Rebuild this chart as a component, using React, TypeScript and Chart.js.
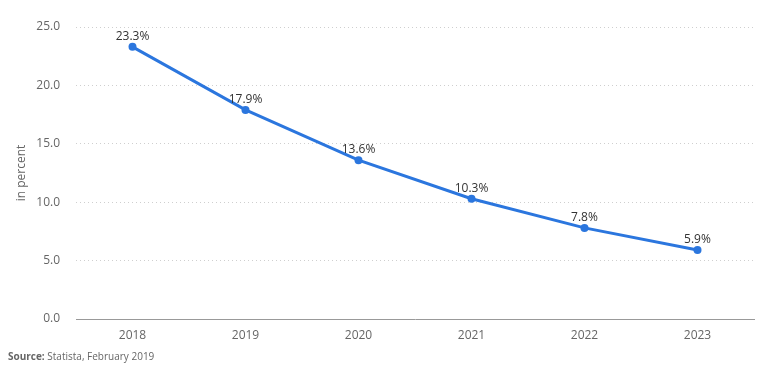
import React, { useEffect, useRef } from "react";
import { Chart, registerables } from "chart.js";

Chart.register(...registerables);

const categories = ["2018", "2019", "2020", "2021", "2022", "2023"];
const values = [23.3, 17.9, 13.6, 10.3, 7.8, 5.9];
const yTicks = [0, 5, 10, 15, 20, 25];

const FONT = "'Open Sans', 'Noto Sans', sans-serif";

const labelPlugin = {
  id: "pointLabels",
  afterDatasetsDraw(chart: any) {
    const ctx = chart.ctx;
    const meta = chart.getDatasetMeta(0);
    ctx.save();
    ctx.font = `12px ${FONT}`;
    ctx.fillStyle = "#333";
    ctx.textAlign = "center";
    ctx.textBaseline = "alphabetic";
    meta.data.forEach((pt: any, i: number) => {
      ctx.fillText(values[i].toFixed(1) + "%", pt.x, pt.y - 7);
    });
    ctx.restore();
  },
};

const sourcePlugin = {
  id: "sourceText",
  afterDraw(chart: any) {
    const ctx = chart.ctx;
    ctx.save();
    ctx.textBaseline = "middle";
    ctx.textAlign = "left";
    ctx.fillStyle = "#666";
    ctx.font = `bold 10px ${FONT}`;
    const b = "Source:";
    ctx.fillText(b, 8, 357);
    const w = ctx.measureText(b).width;
    ctx.font = `10px ${FONT}`;
    ctx.fillText(" Statista, February 2019", 8 + w, 357);
    ctx.restore();
  },
};

export default function App() {
  const ref = useRef<HTMLCanvasElement | null>(null);
  useEffect(() => {
    if (!ref.current) return;
    const chart = new Chart(ref.current, {
      type: "line",
      data: {
        labels: categories,
        datasets: [
          {
            data: values,
            borderColor: "#2b76de",
            backgroundColor: "#2b76de",
            borderWidth: 3,
            pointRadius: 4,
            pointBorderWidth: 0,
            pointHoverRadius: 4,
            tension: 0,
            fill: false,
          },
        ],
      },
      options: {
        animation: false,
        responsive: false,
        maintainAspectRatio: false,
        layout: { padding: { left: 0, right: 25, top: 27, bottom: 25 } },
        plugins: { legend: { display: false }, tooltip: { enabled: false } },
        scales: {
          x: {
            offset: true,
            grid: { display: false, drawTicks: false },
            border: { display: true, color: "#999", width: 1 },
            ticks: { color: "#666", font: { family: FONT, size: 12 }, padding: 9 },
            afterFit: (s: any) => {
              s.height = 30;
            },
          },
          y: {
            min: 0,
            max: 25,
            afterBuildTicks: (s: any) => {
              s.ticks = yTicks.map((v) => ({ value: v }));
            },
            grid: {
              color: "#cfcfcf",
              drawTicks: false,
            },
            border: { display: false, dash: [1, 3] },
            ticks: {
              color: "#666",
              font: { family: FONT, size: 12 },
              padding: 16,
              callback: (v: any) => Number(v).toFixed(1),
            },
            title: {
              display: true,
              text: "in percent",
              color: "#666",
              font: { family: FONT, size: 12 },
              padding: { top: 14, bottom: 0 },
            },
            afterFit: (s: any) => {
              s.width = 76;
            },
          },
        },
      },
      plugins: [labelPlugin, sourcePlugin],
    });
    return () => chart.destroy();
  }, []);
  return (
    <div style={{ position: "fixed", left: 0, top: 0, width: 779, height: 374, background: "#fff" }}>
      <canvas ref={ref} width={779} height={374} style={{ width: 779, height: 374 }} />
    </div>
  );
}
